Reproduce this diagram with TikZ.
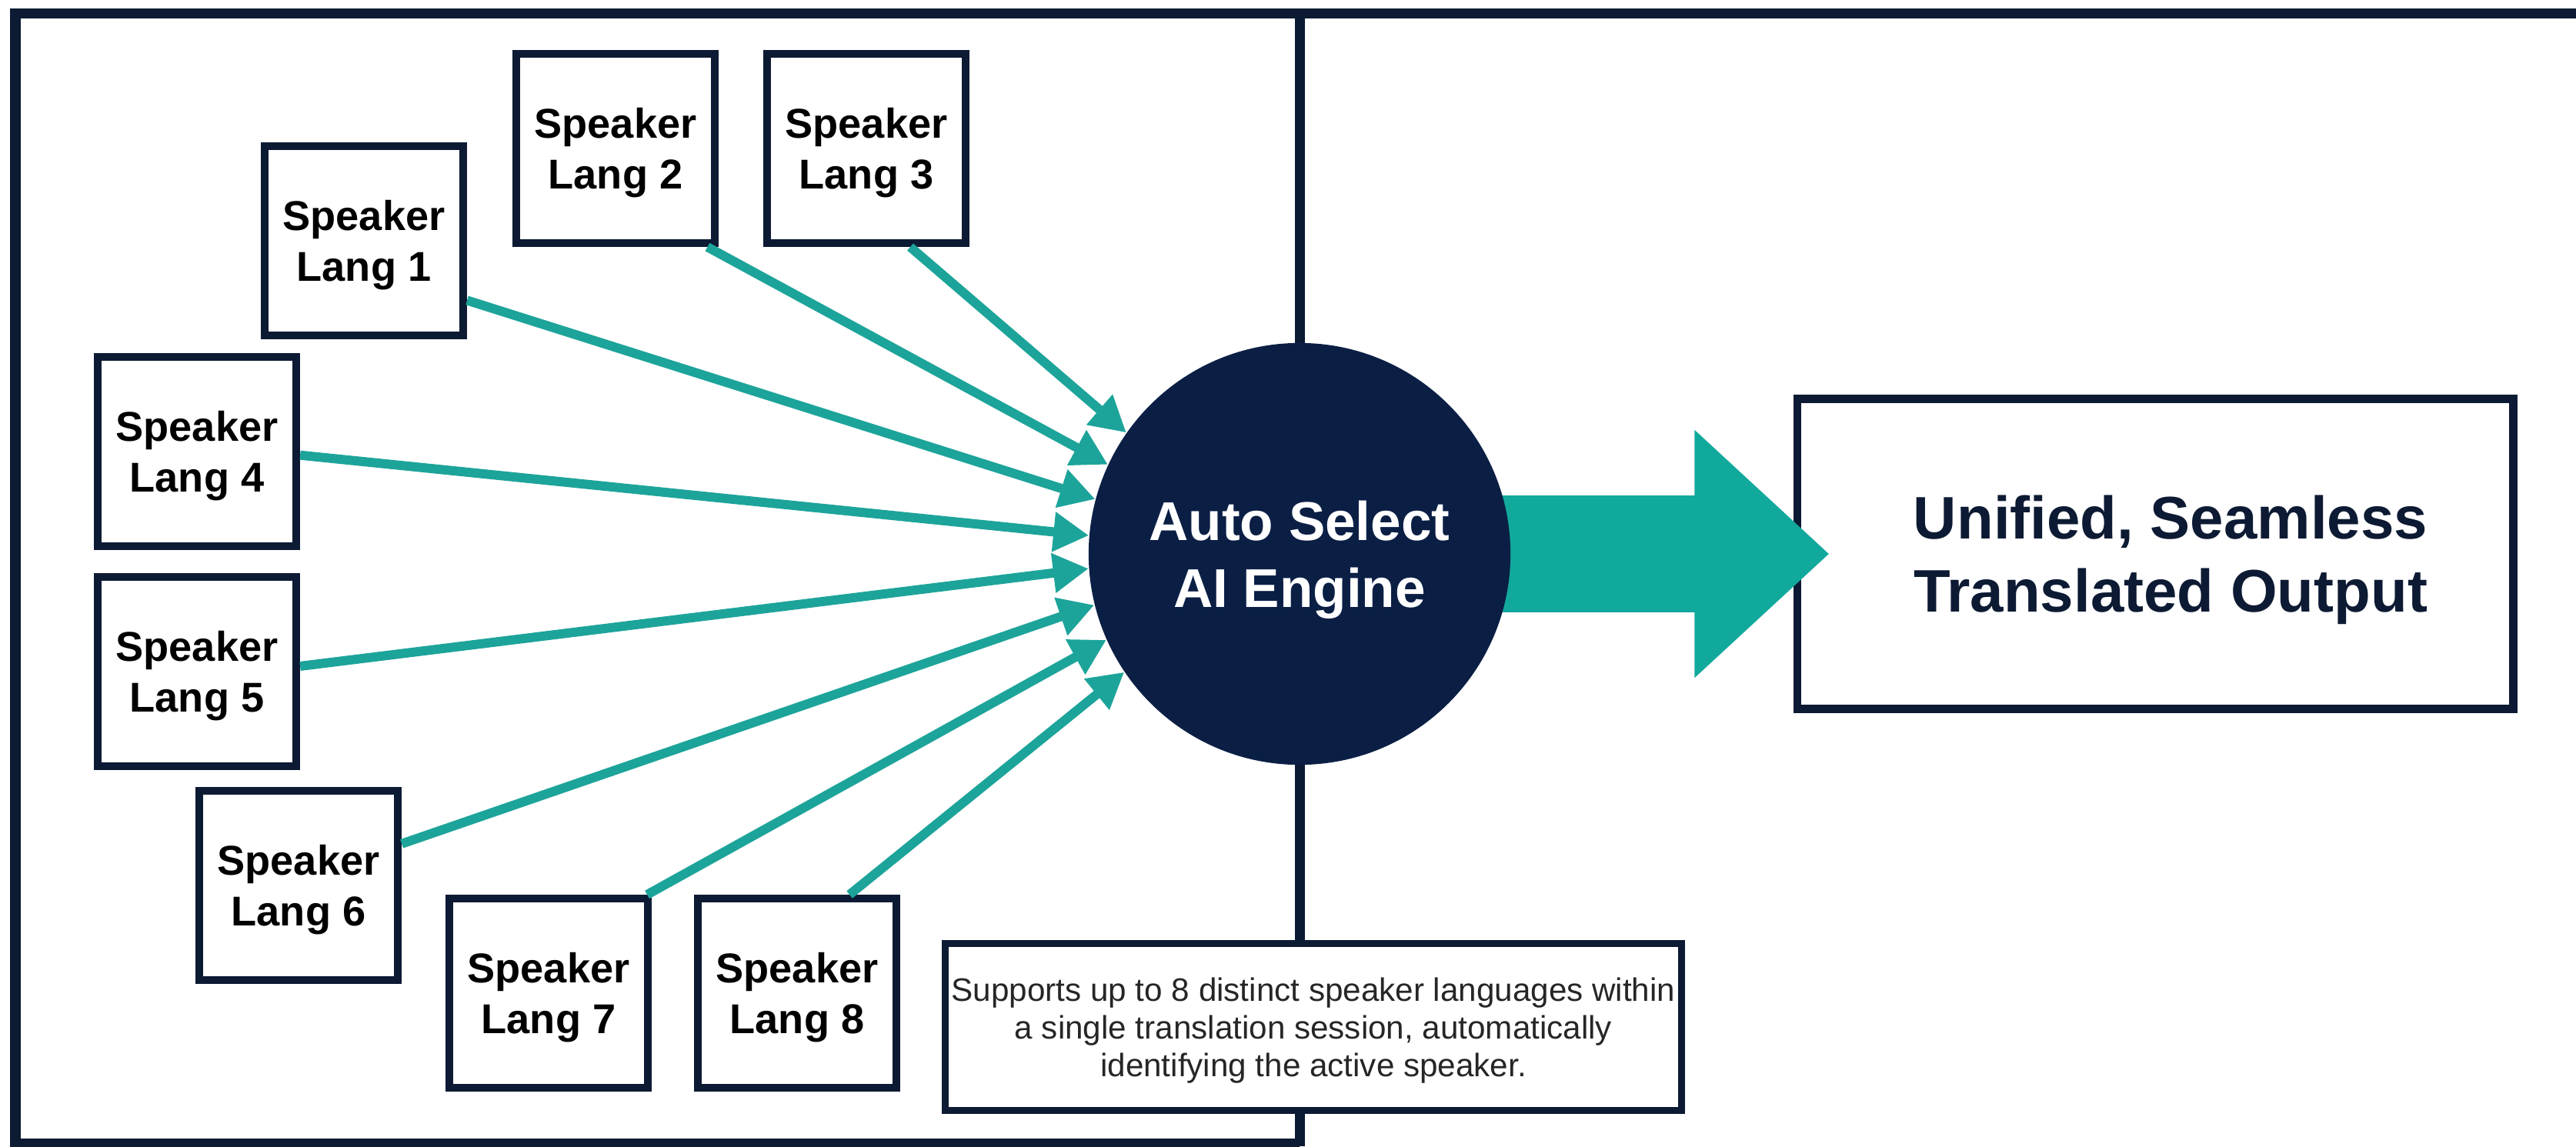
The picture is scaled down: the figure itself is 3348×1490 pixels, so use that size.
\documentclass[tikz,border=0pt]{standalone}
\usepackage{fontspec}
\setmainfont{Liberation Sans}
\usetikzlibrary{arrows.meta}
\definecolor{navy}{HTML}{0B1F45}
\definecolor{ink}{HTML}{0D1A33}
\definecolor{tealc}{HTML}{12A99D}
\definecolor{tealline}{HTML}{1DA49A}
\tikzset{
  framel/.style={draw=ink, line width=1.3mm},
  spk/.style={draw=ink, line width=1mm, fill=white, minimum width=2.58cm, minimum height=2.46cm,
    inner sep=0pt, align=center, text depth=0pt, text=black, font=\fontsize{15.4}{18.6}\selectfont\bfseries},
  engine/.style={circle, fill=navy, minimum size=5.48cm, inner sep=0pt, align=center, text depth=0pt, text=white,
    font=\fontsize{20.2}{24.7}\selectfont\bfseries},
  outbox/.style={draw=ink, line width=1.05mm, fill=white, minimum width=9.30cm, minimum height=4.03cm,
    inner sep=0pt, align=center, text depth=0pt, text=ink, font=\fontsize{22.2}{27}\selectfont\bfseries},
  notebox/.style={draw=ink, line width=0.9mm, fill=white, minimum width=9.56cm, minimum height=2.17cm,
    inner sep=0pt, align=center, text depth=0pt, text=black!85, font=\fontsize{12}{13.9}\selectfont},
  feed/.style={draw=tealline, line width=1.2mm, -{Triangle[length=4.6mm, width=4.9mm]}},
  bigarrow/.style={draw=tealc, line width=1.52cm, -{Triangle[length=1.75cm, width=3.11cm]}}
}
\begin{document}
\begin{tikzpicture}[x=0.01cm, y=-0.01cm]
\useasboundingbox (0,0) rectangle (3348,1490);
% frame
\draw[framel] (3348,17) -- (20,17) -- (20,1486) -- (1689,1486);
\draw[framel] (1689,17) -- (1689,1490);
% speaker boxes
\node[spk] (s1) at (473,313) {Speaker\\Lang 1};
\node[spk] (s2) at (800,193) {Speaker\\Lang 2};
\node[spk] (s3) at (1126,193) {Speaker\\Lang 3};
\node[spk] (s4) at (256,587) {Speaker\\Lang 4};
\node[spk] (s5) at (256,873) {Speaker\\Lang 5};
\node[spk] (s6) at (388,1151) {Speaker\\Lang 6};
\node[spk] (s7) at (713,1291) {Speaker\\Lang 7};
\node[spk] (s8) at (1036,1291) {Speaker\\Lang 8};
% output and note
\node[outbox] (out) at (2801,720) {\hspace*{4mm}Unified, Seamless\\\hspace*{4mm}Translated Output};
\node[notebox] (note) at (1707,1335) {Supports up to 8 distinct speaker languages within\\a single translation session, automatically\\identifying the active speaker.};
% engine
\coordinate (c) at (1689,720);
\draw[bigarrow] (c) -- ([xshift=4.7mm]out.west);
\node[engine] (eng) at (c) {Auto Select\\AI Engine};
% feeds
\draw[feed] (s3.-66.5) -- (eng.145.7);
\draw[feed] (s2.-47) -- (eng.155.6);
\draw[feed] (s1.-30) -- (eng.165.6);
\draw[feed] (s4.-2) -- (eng.175.3);
\draw[feed] (s5.3) -- (eng.184.9);
\draw[feed] (s6.22.8) -- (eng.194.4);
\draw[feed] (s7.45) -- (eng.204.2);
\draw[feed] (s8.62.6) -- (eng.214.1);
\end{tikzpicture}
\end{document}
